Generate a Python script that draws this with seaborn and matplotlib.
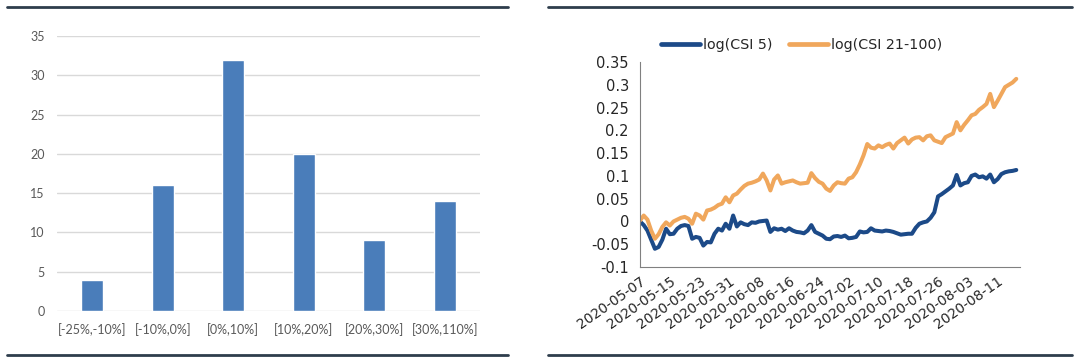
import numpy as np
import pandas as pd
import matplotlib
matplotlib.use("Agg")
import matplotlib.pyplot as plt
import matplotlib.dates as mdates
from matplotlib.ticker import FuncFormatter
import seaborn as sns

# ---------------- data ----------------
bins = ["[-25%,-10%]", "[-10%,0%]", "[0%,10%]", "[10%,20%]", "[20%,30%]", "[30%,110%]"]
counts = [4, 16, 32, 20, 9, 14]

start_date = "2020-05-07"
csi5 = [0.000, -0.008, -0.020, -0.040, -0.060, -0.056, -0.040, -0.016, -0.028, -0.027,
        -0.016, -0.010, -0.008, -0.010, -0.038, -0.034, -0.036, -0.053, -0.045, -0.046,
        -0.027, -0.016, -0.020, -0.005, -0.016, 0.013, -0.011, -0.002, -0.006, -0.008,
        -0.002, -0.003, 0.000, 0.001, 0.002, -0.023, -0.015, -0.018, -0.016, -0.021,
        -0.015, -0.020, -0.023, -0.024, -0.026, -0.020, -0.008, -0.023, -0.027, -0.031,
        -0.038, -0.039, -0.033, -0.032, -0.034, -0.031, -0.037, -0.036, -0.034, -0.022,
        -0.024, -0.023, -0.015, -0.020, -0.021, -0.022, -0.020, -0.021, -0.023, -0.026,
        -0.029, -0.028, -0.027, -0.027, -0.014, -0.005, -0.002, 0.000, 0.008, 0.020,
        0.055, 0.060, 0.066, 0.072, 0.079, 0.102, 0.079, 0.084, 0.086, 0.100,
        0.103, 0.097, 0.099, 0.094, 0.103, 0.086, 0.093, 0.104, 0.108, 0.110,
        0.111, 0.113]
csi21_100 = [0.002, 0.013, 0.004, -0.020, -0.038, -0.028, -0.012, -0.002, -0.009, 0.000,
             0.004, 0.008, 0.010, 0.006, -0.005, 0.017, 0.013, 0.004, 0.024, 0.026,
             0.030, 0.036, 0.039, 0.053, 0.042, 0.057, 0.061, 0.070, 0.078, 0.083,
             0.085, 0.088, 0.092, 0.105, 0.090, 0.068, 0.092, 0.101, 0.083, 0.086,
             0.088, 0.090, 0.086, 0.083, 0.084, 0.085, 0.106, 0.095, 0.087, 0.083,
             0.072, 0.067, 0.079, 0.086, 0.084, 0.083, 0.094, 0.097, 0.108, 0.125,
             0.145, 0.170, 0.162, 0.160, 0.167, 0.163, 0.168, 0.171, 0.160, 0.172,
             0.178, 0.184, 0.171, 0.180, 0.184, 0.185, 0.178, 0.187, 0.189, 0.178,
             0.175, 0.172, 0.185, 0.189, 0.193, 0.218, 0.200, 0.212, 0.222, 0.233,
             0.236, 0.245, 0.251, 0.258, 0.280, 0.251, 0.265, 0.280, 0.295, 0.300,
             0.305, 0.313]
series_names = ["log(CSI 5)", "log(CSI 21-100)"]
y_ticks_right = [-0.1, -0.05, 0, 0.05, 0.1, 0.15, 0.2, 0.25, 0.3, 0.35]
y_ticks_left = [0, 5, 10, 15, 20, 25, 30, 35]

dates = pd.date_range(start_date, periods=len(csi5), freq="D")
df_lines = pd.concat([
    pd.DataFrame({"date": dates, "value": csi5, "series": series_names[0]}),
    pd.DataFrame({"date": dates, "value": csi21_100, "series": series_names[1]}),
])
df_bars = pd.DataFrame({"bin": bins, "count": counts})

# ---------------- style ----------------
sns.set_style("white")
plt.rcParams["font.family"] = ["DejaVu Sans"]

fig = plt.figure(figsize=(10.8, 3.6), dpi=100)

# separator lines
for (x0, x1) in [(7 / 1080, 508 / 1080), (548 / 1080, 1072 / 1080)]:
    for yy in [1 - 7 / 360, 1 - 355 / 360]:
        fig.add_artist(plt.Line2D([x0, x1], [yy, yy], color="#2E3D4C", lw=2.0,
                                  transform=fig.transFigure))

# ---------------- left: bar chart ----------------
axL = fig.add_axes([57 / 1080, 1 - 311 / 360, 423 / 1080, 275 / 360])
sns.barplot(data=df_bars, x="bin", y="count", color="#4A7DBA", width=0.31,
            saturation=1, ax=axL, zorder=3)
axL.set_ylim(0, 35)
axL.set_yticks(y_ticks_left)
axL.grid(axis="y", color="#D9D9D9", lw=1.0, zorder=0)
axL.set_axisbelow(True)
for s in axL.spines.values():
    s.set_visible(False)
axL.tick_params(axis="both", length=0, colors="#595959", labelsize=9)
axL.tick_params(axis="y", pad=9)
axL.tick_params(axis="x", pad=9)
for lab in axL.get_xticklabels() + axL.get_yticklabels():
    lab.set_family(["Lato", "DejaVu Sans"])
axL.set_xlabel("")
axL.set_ylabel("")

# ---------------- right: line chart ----------------
axR = fig.add_axes([640 / 1080, 1 - 267 / 360, 380 / 1080, 205 / 360])
sns.lineplot(data=df_lines, x="date", y="value", hue="series",
             palette=["#1C4A88", "#F0A75C"], lw=2.9, ax=axR, legend=True)
axR.set_ylim(-0.1, 0.35)
axR.set_yticks(y_ticks_right)
axR.yaxis.set_major_formatter(FuncFormatter(lambda v, p: f"{v:g}"))
axR.set_xlim(dates[0], dates[-1] + pd.Timedelta(days=1))
axR.set_xticks(dates[::8])
axR.xaxis.set_major_formatter(mdates.DateFormatter("%Y-%m-%d"))
axR.set_xticks(dates, minor=True)
axR.tick_params(axis="x", which="both", direction="in", length=4, width=0.8,
                color="#808080", labelsize=10, pad=5)
axR.tick_params(axis="y", direction="in", length=4, width=0.8, color="#808080",
                labelsize=10.5, pad=8)
for lab in axR.get_xticklabels():
    lab.set_rotation(35)
    lab.set_ha("right")
    lab.set_rotation_mode("anchor")
axR.spines["top"].set_visible(False)
axR.spines["right"].set_visible(False)
axR.spines["left"].set_color("#808080")
axR.spines["bottom"].set_color("#808080")
axR.set_xlabel("")
axR.set_ylabel("")
leg = axR.legend(loc="center", bbox_to_anchor=(0.425, 1.085), ncol=2, frameon=False,
                 fontsize=10.3, handlelength=2.7, columnspacing=1.2, handletextpad=0.2)
for h in leg.get_lines():
    h.set_linewidth(3.4)

fig.savefig("out.png", dpi=100)
